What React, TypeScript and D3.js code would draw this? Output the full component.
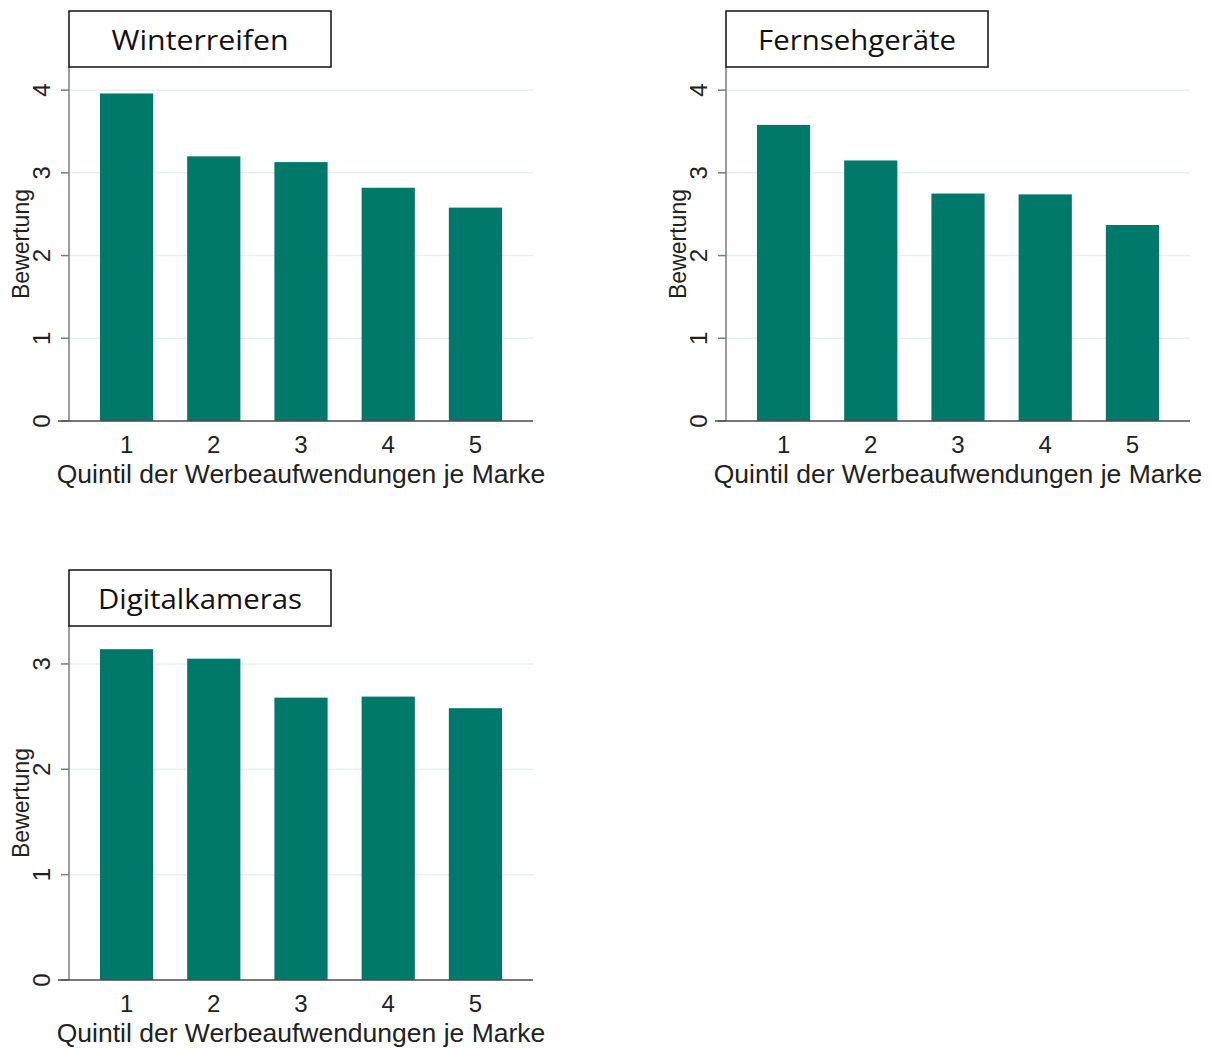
import * as d3 from "d3";
import { useEffect, useRef } from "react";

const quintiles = ["1", "2", "3", "4", "5"];
const winterreifen = [3.96, 3.2, 3.13, 2.82, 2.58];
const fernsehgeraete = [3.58, 3.15, 2.75, 2.74, 2.37];
const digitalkameras = [3.14, 3.05, 2.68, 2.69, 2.58];
const ticksFour = [0, 1, 2, 3, 4];
const ticksThree = [0, 1, 2, 3];
const titles = ["Winterreifen", "Fernsehgeräte", "Digitalkameras"];
const yLabel = "Bewertung";
const xLabel = "Quintil der Werbeaufwendungen je Marke";

const W = 1212;
const H = 1048;
const BAR = "#00786a";
const GRID = "#e6eff1";
const SANS = "'Liberation Sans', Arial, sans-serif";
const TITLE_FONT = "'Open Sans', 'Noto Sans', sans-serif";

type Panel = {
  title: string;
  titleWidth: number;
  values: number[];
  ticks: number[];
  yTop: number;
  dx: number;
  dy: number;
};

const panels: Panel[] = [
  { title: titles[0], titleWidth: 177, values: winterreifen, ticks: ticksFour, yTop: 4.28, dx: 0, dy: 0 },
  { title: titles[1], titleWidth: 198, values: fernsehgeraete, ticks: ticksFour, yTop: 4.28, dx: 657, dy: 0 },
  { title: titles[2], titleWidth: 204, values: digitalkameras, ticks: ticksThree, yTop: 3.36, dx: 0, dy: 559 },
];

// draws one small-multiple panel into group g
const drawPanel = (g: any, p: Panel) => {
  const left = 69;
  const right = 533;
  const top = 67;
  const bottom = 421;

  const x = d3
    .scaleBand()
    .domain(quintiles)
    .range([left, right])
    .paddingInner(0.39)
    .paddingOuter(0.355);
  const y = d3.scaleLinear().domain([0, p.yTop]).range([bottom, top]);

  // gridlines
  g.selectAll(".grid")
    .data(p.ticks.filter((t) => t > 0))
    .join("line")
    .attr("x1", left)
    .attr("x2", right)
    .attr("y1", (d: number) => y(d))
    .attr("y2", (d: number) => y(d))
    .attr("stroke", GRID)
    .attr("stroke-width", 1.5);

  // bars
  g.selectAll(".bar")
    .data(p.values)
    .join("rect")
    .attr("x", (_: number, i: number) => x(quintiles[i]))
    .attr("y", (d: number) => y(d))
    .attr("width", x.bandwidth())
    .attr("height", (d: number) => y(0) - y(d))
    .attr("fill", BAR);

  // y axis
  g.append("line")
    .attr("x1", left)
    .attr("x2", left)
    .attr("y1", top)
    .attr("y2", bottom)
    .attr("stroke", "#7b7b7b")
    .attr("stroke-width", 1.5);

  const yt = g.append("g");
  p.ticks.forEach((t) => {
    yt.append("line")
      .attr("x1", left - 8)
      .attr("x2", left)
      .attr("y1", y(t))
      .attr("y2", y(t))
      .attr("stroke", "#7b7b7b")
      .attr("stroke-width", 1.5);
    yt.append("text")
      .text(t)
      .attr("transform", `translate(50,${y(t)}) rotate(-90)`)
      .attr("text-anchor", "middle")
      .attr("font-family", SANS)
      .attr("font-size", 24)
      .attr("fill", "#222");
  });

  g.append("text")
    .text(yLabel)
    .attr("transform", `translate(29,${(top + bottom) / 2}) rotate(-90)`)
    .attr("text-anchor", "middle")
    .attr("font-family", SANS)
    .attr("font-size", 23)
    .attr("fill", "#222");

  // x axis
  g.append("line")
    .attr("x1", left - 11)
    .attr("x2", right)
    .attr("y1", bottom)
    .attr("y2", bottom)
    .attr("stroke", "#4a4a4a")
    .attr("stroke-width", 1.5);

  g.selectAll(".xt")
    .data(quintiles)
    .join("text")
    .text((d: string) => d)
    .attr("x", (d: string) => (x(d) as number) + x.bandwidth() / 2)
    .attr("y", bottom + 32)
    .attr("text-anchor", "middle")
    .attr("font-family", SANS)
    .attr("font-size", 24)
    .attr("fill", "#222");

  g.append("text")
    .text(xLabel)
    .attr("x", 301)
    .attr("y", bottom + 62)
    .attr("text-anchor", "middle")
    .attr("font-family", SANS)
    .attr("font-size", 26.5)
    .attr("fill", "#222");

  // title box
  g.append("rect")
    .attr("x", left)
    .attr("y", 11)
    .attr("width", 262)
    .attr("height", top - 11)
    .attr("fill", "#fff")
    .attr("stroke", "#111")
    .attr("stroke-width", 1.5);
  g.append("text")
    .text(p.title)
    .attr("x", left + 131)
    .attr("y", 50)
    .attr("text-anchor", "middle")
    .attr("font-family", TITLE_FONT)
    .attr("font-size", 28)
    .attr("textLength", p.titleWidth)
    .attr("lengthAdjust", "spacingAndGlyphs")
    .attr("fill", "#111");
};

const drawChart = (target: any) => {
  const svg = d3.select(target);
  svg.selectAll("*").remove();
  svg.append("rect").attr("width", W).attr("height", H).attr("fill", "#fff");
  panels.forEach((p) => {
    const g = svg.append("g").attr("transform", `translate(${p.dx},${p.dy})`);
    drawPanel(g, p);
  });
};

const App = () => {
  const ref = useRef<SVGSVGElement>(null);
  useEffect(() => {
    if (ref.current) drawChart(ref.current);
  }, []);
  return (
    <svg
      ref={ref}
      width={W}
      height={H}
      style={{ position: "absolute", left: 0, top: 0 }}
    />
  );
};

export default App;
